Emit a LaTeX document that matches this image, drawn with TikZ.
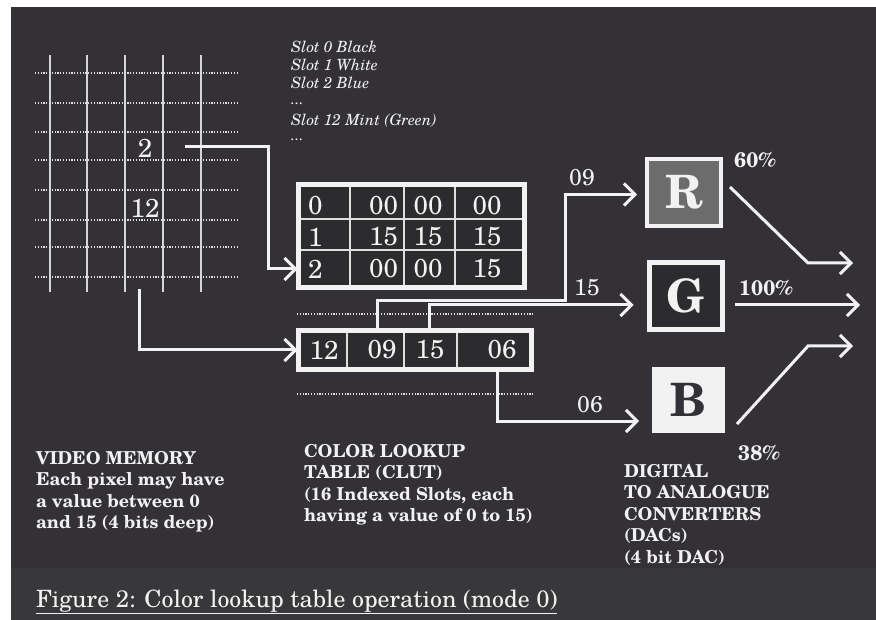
\documentclass[tikz,border=0pt]{standalone}
\usepackage{fontspec}
\setmainfont{texgyreschola}[Extension=.otf,UprightFont=*-regular,BoldFont=*-bold,ItalicFont=*-italic,BoldItalicFont=*-bolditalic]
\usetikzlibrary{arrows.meta,calc}
\definecolor{bgc}{HTML}{333135}
\definecolor{band}{HTML}{383739}
\definecolor{fg}{HTML}{F2F2F2}
\definecolor{cellbg}{HTML}{2C2B2D}
\definecolor{rfill}{HTML}{6C6C6C}
\begin{document}
\begin{tikzpicture}[x=1pt,y=-1pt,
  every node/.style={inner sep=0pt,outer sep=0pt,text=fg},
  conn/.style={draw=fg,line width=3pt},
  arr/.style={-{Straight Barb[length=11pt,width=22pt,line width=3pt]}},
  gridv/.style={draw=fg!85!bgc,line width=1.2pt},
  dotl/.style={draw=fg!90!bgc,line width=1.6pt,dash pattern=on 1.2pt off 1.6pt},
  sep/.style={draw=fg!90!bgc,line width=1.6pt},
  num/.style={font=\fontsize{26}{26}\selectfont},
  lab/.style={font=\fontsize{23}{23}\selectfont},
  pct/.style={font=\bfseries\fontsize{21}{21}\selectfont},
  slot/.style={font=\itshape\fontsize{15.5}{15.5}\selectfont,anchor=west},
  lbl/.style={font=\bfseries\fontsize{17.8}{21.6}\selectfont,align=left,anchor=north west},
  tblbox/.style={draw=fg,line width=5pt,fill=cellbg},
  dac/.style={font=\bfseries\fontsize{46}{46}\selectfont}]
\useasboundingbox (0,0) rectangle (876,620);
\fill[white] (0,0) rectangle (876,620);
\fill[bgc] (11,7) rectangle (876,620);
\fill[band] (11,568) rectangle (876,620);

% video memory grid
\foreach \x in {50,87,125,163,201} \draw[gridv] (\x,55) -- (\x,292);
\foreach \y in {73,103,132,160,190,220,247,277} \draw[dotl] (35,\y) -- (237,\y);
\node[num] (v2) at (145,148) {2};
\node[num] (v12) at (145,208) {12};

% slot list
\node[slot] (s1) at (291,47) {Slot 0 Black};
\node[slot] (s2t) at (291,65) {Slot 1 White};
\node[slot] (s3) at (291,83) {Slot 2 Blue};
\node[slot] (s4) at (291,104) {...};
\node[slot] (s5) at (291,121) {Slot 12 Mint (Green)};
\node[slot] (s6) at (291,140) {...};

% CLUT
\node[tblbox,minimum width=226pt,minimum height=103pt] (clut) at (411.5,236) {};
\draw[sep] (301,219) -- (522,219);
\draw[sep] (301,250) -- (522,250);
\foreach \x in {350,404,455} \draw[sep] (\x,187) -- (\x,285);
\node[num,anchor=west] (c00) at (308,206) {0};
\node[num,anchor=east] (c01) at (398,206) {00};
\node[num] (c02) at (428,206) {00};
\node[num] (c03) at (487,206) {00};
\node[num,anchor=west] (c10) at (308,237) {1};
\node[num,anchor=east] (c11) at (398,237) {15};
\node[num] (c12) at (428,237) {15};
\node[num] (c13) at (487,237) {15};
\node[num,anchor=west] (c20) at (308,269) {2};
\node[num,anchor=east] (c21) at (398,269) {00};
\node[num] (c22) at (428,269) {00};
\node[num] (c23) at (487,269) {15};

% pixel row table
\draw[dotl] (297,314) -- (534,314);
\draw[dotl] (297,394) -- (534,394);
\node[tblbox,minimum width=233pt,minimum height=39pt] (px) at (415,350) {};
\foreach \x in {347,404,457} \draw[sep] (\x,333) -- (\x,367);
\node[num] (p12) at (324,350) {12};
\node[num] (p09) at (382,350) {09};
\node[num] (p15) at (430,350) {15};
\node[num] (p06) at (502,350) {06};

% DAC boxes
\node[draw=fg,line width=4pt,fill=rfill,minimum width=74pt,minimum height=67pt,dac] (R) at (684,192.5) {R};
\node[draw=fg,line width=5pt,fill=cellbg,minimum width=73pt,minimum height=67pt,dac] (G) at (686,296) {G};
\node[fill=fg,minimum width=73pt,minimum height=66pt,dac,text=bgc] (B) at (688.5,400) {B};

% connectors
\coordinate (s2) at (185,147);
\coordinate (k2) at (268,147);
\draw[conn,arr,shorten >=1pt] (s2) -- (k2) |- (clut.west |- c20);
\coordinate (gout) at (139,289);
\draw[conn,arr,shorten >=1pt] (gout) |- (px.west);
\coordinate (k09) at (565,301);
\draw[conn,arr,shorten >=10pt] ([xshift=-5pt]p09.center |- px.north) |- (k09) |- ([yshift=-2pt]R.west);
\draw[conn,arr,shorten >=16pt] ([xshift=-1pt]p15.center |- px.north) |- ([yshift=-9pt]G.west);
\draw[conn,arr,shorten >=13pt] ([xshift=-5pt]p06.center |- px.south) |- ([yshift=-21pt]B.west);

\node[lab] (l09) at (582,178) {09};
\node[lab] (l15) at (587,288) {15};
\node[lab] (l06) at (590,405) {06};

% outputs
\coordinate (oR) at (853,263);
\coordinate (oG) at (860,305);
\coordinate (oB) at (853,346);
\draw[conn,arr] ([shift={(9pt,5.5pt)}]R.east) -- (808,263) -- (oR);
\draw[conn,arr] ([shift={(12pt,-9pt)}]G.east) -- (oG);
\draw[conn,arr] ([shift={(12pt,-24pt)}]B.east) -- (808,346) -- (oB);
\node[pct] (p60) at (755,160) {60\%};
\node[pct] (p100) at (766,288) {100\%};
\node[pct] (p38) at (759,453) {38\%};

% descriptions
\node[lbl] (vm) at (36,451) {VIDEO MEMORY\\Each pixel may have\\a value between 0\\and 15 (4 bits deep)};
\node[lbl] (cl) at (304,444) {COLOR LOOKUP\\TABLE (CLUT)\\(16 Indexed Slots, each\\having a value of 0 to 15)};
\node[lbl] (da) at (624,464) {DIGITAL\\TO ANALOGUE\\CONVERTERS\\(DACs)\\(4 bit DAC)};

\node[font=\fontsize{23.8}{23.8}\selectfont,anchor=base west] (cap) at (36,607) {\underline{Figure 2: Color lookup table operation (mode 0)}};
\end{tikzpicture}
\end{document}
